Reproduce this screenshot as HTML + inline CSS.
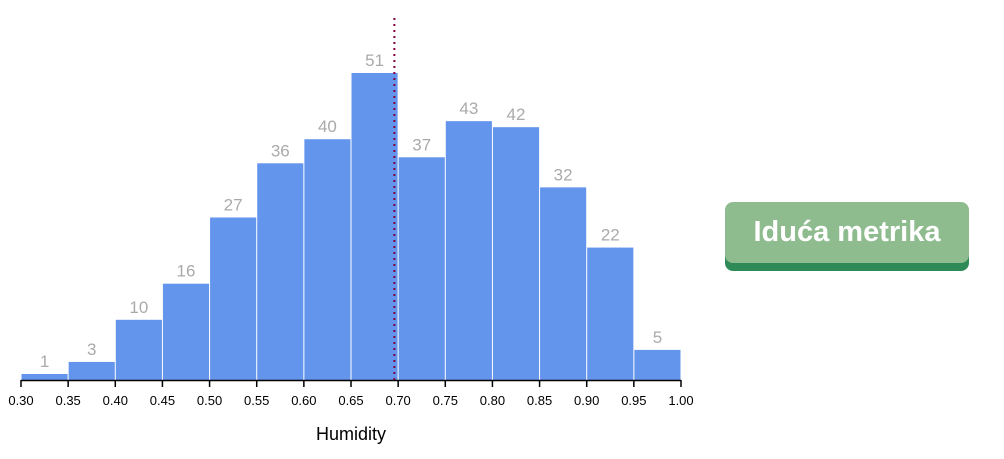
<!DOCTYPE html>
<html><head><meta charset="utf-8"><style>
body{margin:0;background:#fff;width:1004px;height:459px;overflow:hidden;position:relative;font-family:"Liberation Sans",sans-serif}
#btn{position:absolute;left:725px;top:202px;width:244px;height:61px;background:#8fbc8f;border-radius:8px;box-shadow:0 8px 0 #2e8b57;color:#fff;font-weight:bold;font-size:29px;text-align:center;line-height:61px;cursor:pointer}
</style></head><body>
<svg id="chart" width="700" height="459" style="position:absolute;left:0;top:0"></svg>
<div id="btn">Iduća metrika</div>
<script>
const binStarts=[0.30,0.35,0.40,0.45,0.50,0.55,0.60,0.65,0.70,0.75,0.80,0.85,0.90,0.95];
const counts=[1,3,10,16,27,36,40,51,37,43,42,32,22,5];
const ticks=["0.30","0.35","0.40","0.45","0.50","0.55","0.60","0.65","0.70","0.75","0.80","0.85","0.90","0.95","1.00"];
const meanValue=0.6960;
const NS="http://www.w3.org/2000/svg";
const svg=document.getElementById('chart');
const x=v=>21+(v-0.30)*660/0.70;
const y=v=>380-v*307/51;
function mk(t,a){const e=document.createElementNS(NS,t);for(const k in a)e.setAttribute(k,a[k]);svg.appendChild(e);return e;}
binStarts.forEach((b,i)=>{
 const r=mk('rect',{x:x(b)+0.5,y:y(counts[i]),width:x(b+0.05)-x(b)-1,height:380-y(counts[i]),fill:'#6495ed'});
 
 
 const t=mk('text',{x:(x(b)+x(b+0.05))/2,y:y(counts[i])-7,'text-anchor':'middle','font-size':17,fill:'#aaa'});
 t.textContent=counts[i];
 
 
});
const ax=mk('line',{x1:21,x2:681,y1:380.5,y2:380.5,stroke:'#000','stroke-width':1.5});


ticks.forEach(s=>{
 const v=parseFloat(s);
 mk('line',{x1:x(v),x2:x(v),y1:380,y2:387,stroke:'#000','stroke-width':1.5});
 const t=mk('text',{x:x(v),y:405,'text-anchor':'middle','font-size':13,fill:'#000'});
 t.textContent=s;
 
 
});
const m=mk('line',{x1:x(meanValue),x2:x(meanValue),y1:18,y2:380,stroke:'#800040','stroke-width':2,'stroke-dasharray':'2,4'});


const xt=mk('text',{x:351,y:440,'text-anchor':'middle','font-size':18,fill:'#000'});
xt.textContent='Humidity';


</script>
</body></html>
